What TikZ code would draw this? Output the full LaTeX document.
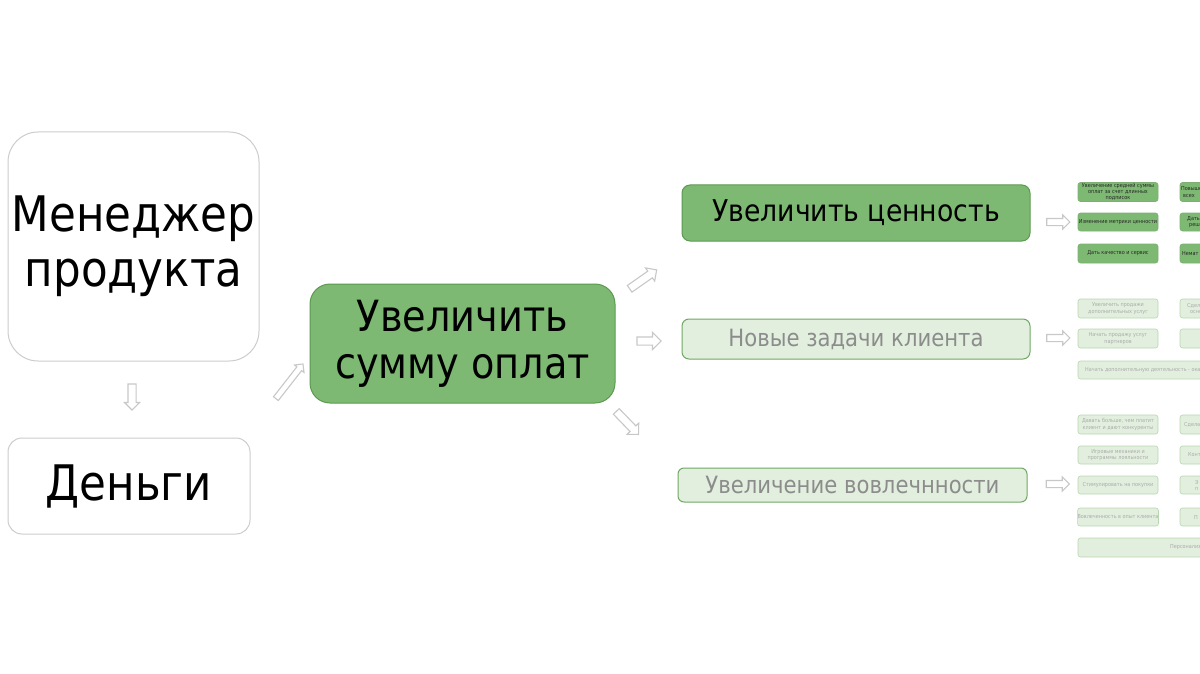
\documentclass[tikz,border=0pt]{standalone}
\usepackage{fontspec}
\setmainfont{DejaVu Sans}[FakeStretch=0.89]
\usetikzlibrary{shapes.arrows}
\definecolor{gfill}{HTML}{7DB972}
\definecolor{gdraw}{HTML}{5C9A50}
\definecolor{lfill}{HTML}{E2EFDE}
\definecolor{ldraw}{HTML}{6FA863}
\definecolor{sdraw}{HTML}{B8D7B0}
\definecolor{ltext}{HTML}{8C8C8C}
\definecolor{stext}{HTML}{ABABAB}
\definecolor{agray}{HTML}{C8C8C8}
\definecolor{wgray}{HTML}{CCCCCC}
\begin{document}
\begin{tikzpicture}[x=1pt,y=-1pt,
  whitebox/.style={draw=wgray,line width=1pt,fill=white,align=center,inner sep=0pt},
  greenbox/.style={draw=gdraw,line width=1pt,fill=gfill,align=center,inner sep=0pt,text=black},
  lightbox/.style={draw=ldraw,line width=1pt,fill=lfill,align=center,inner sep=0pt,text=ltext},
  sgreen/.style={draw=gdraw!80,line width=0.6pt,fill=gfill,rounded corners=2.5pt,minimum width=80pt,align=center,inner sep=0pt,text=black!85,font=\fontsize{5.5}{6.2}\selectfont},
  slight/.style={draw=sdraw,line width=0.6pt,fill=lfill,rounded corners=2.5pt,minimum width=80pt,align=center,inner sep=0pt,text=stext,font=\fontsize{5.5}{6.2}\selectfont},
  stxt/.style={anchor=west,inner sep=0pt,align=left,font=\fontsize{5.5}{6.2}\selectfont},
  barr/.style={single arrow,draw=agray,fill=white,line width=1.1pt,inner xsep=0pt,minimum width=0pt}
]
\useasboundingbox (0,0) rectangle (1200,674);
\clip (0,0) rectangle (1200,674);

% left column
\node[whitebox,rounded corners=30pt,minimum width=251pt,minimum height=229pt,font=\fontsize{49}{55}\selectfont] (mgr) at (133.5,246.5) {Менеджер\\продукта};
\node[whitebox,rounded corners=14pt,minimum width=242pt,minimum height=96pt,font=\fontsize{49}{55}\selectfont] (money) at (129,486) {Деньги};

% centre
\node[greenbox,rounded corners=20pt,minimum width=305pt,minimum height=119pt,font=\fontsize{43}{47}\selectfont] (sum) at (462.5,343.5) {Увеличить\\сумму оплат};

% middle column
\node[greenbox,rounded corners=8pt,minimum width=348pt,minimum height=56pt,font=\fontsize{30}{33}\selectfont] (value) at (856,213) {Увеличить ценность};
\node[lightbox,rounded corners=7pt,minimum width=348pt,minimum height=40pt,font=\fontsize{23.8}{26}\selectfont] (tasks) at (856,339) {Новые задачи клиента};
\node[lightbox,rounded corners=6pt,minimum width=349pt,minimum height=34pt,font=\fontsize{23.8}{26}\selectfont] (engage) at (852.5,485) {Увеличение вовлечнности};

% block arrows
\node[barr,inner ysep=3.5pt,single arrow head extend=3.5pt,minimum height=26pt,rotate=-90] (a1) at (132,395) {};
\node[barr,inner ysep=2.5pt,single arrow head extend=3pt,minimum height=44pt,rotate=52] (a2) at (288.5,382.5) {};
\node[barr,inner ysep=3.5pt,single arrow head extend=4pt,minimum height=33pt,rotate=35] (a3) at (641.5,280.5) {};
\node[barr,inner ysep=3.5pt,single arrow head extend=4.5pt,minimum height=24pt] (a4) at (647,341) {};
\node[barr,inner ysep=3.5pt,single arrow head extend=4pt,minimum height=32pt,rotate=-46] (a5) at (626,421.5) {};
\node[barr,inner ysep=3pt,single arrow head extend=3.5pt,minimum height=23pt] (a6) at (1056.5,222) {};
\node[barr,inner ysep=3pt,single arrow head extend=3.5pt,minimum height=23pt] (a7) at (1056.5,338) {};
\node[barr,inner ysep=3pt,single arrow head extend=3.5pt,minimum height=23pt] (a8) at (1056,484) {};

% small boxes: value group
\node[sgreen,minimum height=19pt] (v1) at (1118,192) {Увеличение средней суммы\\оплат за счет длинных\\подписок};
\node[sgreen,minimum height=18pt] (v2) at (1118,222) {Изменение метрики ценности};
\node[sgreen,minimum height=19pt] (v3) at (1118,253.5) {Дать качество и сервис};
\node[sgreen,minimum height=19pt] (v4) at (1220,192) {};
\node[sgreen,minimum height=18pt] (v5) at (1220,222) {};
\node[sgreen,minimum height=19pt] (v6) at (1220,253.5) {};
\node[stxt,text=black!85] (v4t) at (1181,189) {Повыше};
\node[stxt,text=black!85] (v4u) at (1183,195.5) {всех};
\node[stxt,text=black!85] (v5t) at (1187,219) {Дать};
\node[stxt,text=black!85] (v5u) at (1189,225.5) {реш};
\node[stxt,text=black!85] (v6t) at (1182,253.5) {Немат};

% small boxes: tasks group
\node[slight,minimum height=19pt] (t1) at (1118,308.5) {Увеличить продажи\\дополнительных услуг};
\node[slight,minimum height=19pt] (t2) at (1118,338.5) {Начать продажу услуг\\партнеров};
\node[slight,minimum height=19pt] (t4) at (1220,308.5) {};
\node[slight,minimum height=19pt] (t5) at (1220,338.5) {};
\node[slight,minimum width=260pt,minimum height=18pt] (t3) at (1208,370) {};
\node[stxt,text=stext] (t3t) at (1085,370) {Начать дополнительную деятельность - оказ};
\node[stxt,text=stext] (t4t) at (1187,305.5) {Сдел};
\node[stxt,text=stext] (t4u) at (1190,312) {осно};

% small boxes: engagement group
\node[slight,minimum height=19pt] (e1) at (1118,424.5) {Давать больше, чем платит\\клиент и дают конкуренты};
\node[slight,minimum height=18pt] (e2) at (1118,455) {Игровые механики и\\программы лояльности};
\node[slight,minimum height=18pt] (e3) at (1118,485) {Стимулировать на покупки};
\node[slight,minimum height=18pt] (e4) at (1118,517) {Вовлеченность в опыт клиента};
\node[slight,minimum height=19pt] (e6) at (1220,424.5) {};
\node[slight,minimum height=18pt] (e7) at (1220,455) {};
\node[slight,minimum height=18pt] (e8) at (1220,485) {};
\node[slight,minimum height=18pt] (e9) at (1220,517) {};
\node[slight,minimum width=260pt,minimum height=19pt] (e5) at (1208,547.5) {};
\node[stxt,text=stext] (e6t) at (1184,424.5) {Сделат};
\node[stxt,text=stext] (e7t) at (1188,455) {Конт};
\node[stxt,text=stext] (e8t) at (1195,482) {Э};
\node[stxt,text=stext] (e8u) at (1195,488.5) {п};
\node[stxt,text=stext] (e9t) at (1194,517) {П};
\node[stxt,text=stext] (e5t) at (1170,547.5) {Персонализ};
\end{tikzpicture}
\end{document}
